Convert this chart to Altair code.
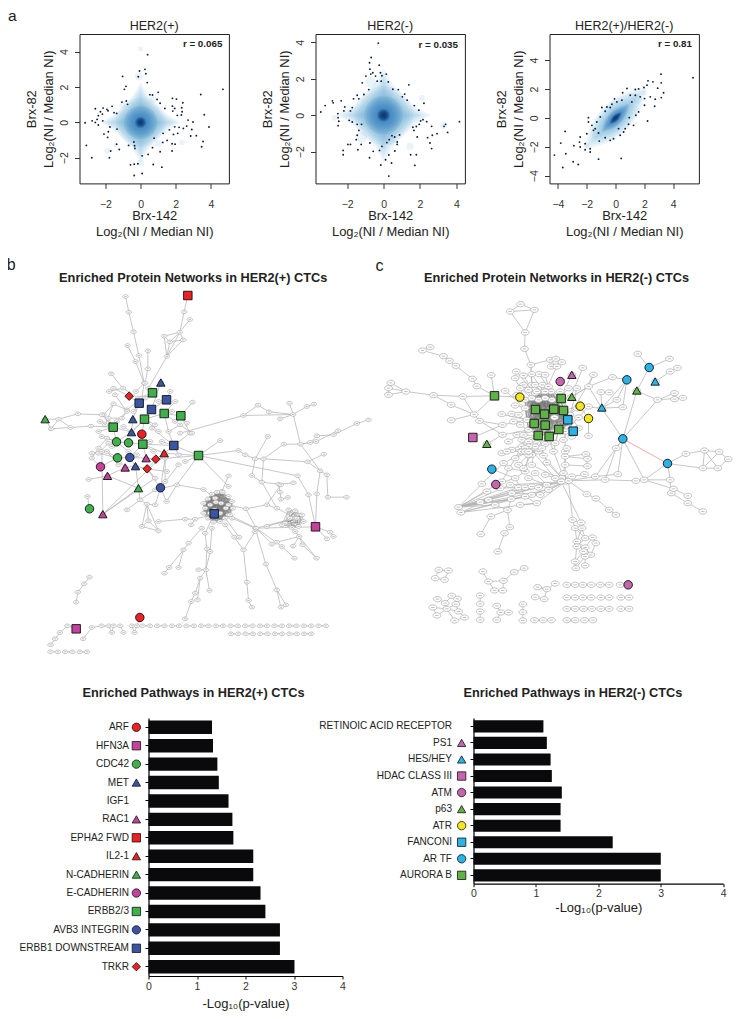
import altair as alt
import pandas as pd

FONT = "Liberation Sans"

# ---------- panel a: scatter values ----------
pts_a1 = [(.40,3.83),(.25,3.00),(-.06,2.91),(.30,2.75),(-.13,2.58),(.38,2.25),(-1.02,2.60),(-.83,2.04),(-.92,1.87),(1.0,1.70),(3.42,1.58),(4.68,1.87),(.53,1.57),(.68,1.55),(.94,1.30),(-1.06,1.15),(-.81,1.21),(-.74,1.02),(1.11,1.08),(1.81,1.36),(2.04,1.32),(2.40,1.11),(1.38,.79),(1.81,.92),(1.94,.79),(2.34,.83),(1.83,.64),(2.36,.60),(2.09,.40),(2.32,.42),(-2.57,.77),(-2.13,.81),(-1.91,.74),(-1.62,.91),(-2.28,.60),(-2.17,.47),(-1.85,.66),(-1.51,.55),(-1.36,.51),(-2.40,.38),(-2.47,.17),(-2.15,.09),(-2.75,.09),(-3.15,-.02),(-2.57,0),(-2.40,-.15),(-1.74,-.26),(-1.34,-.38),(-1.83,-.53),(-2.08,-.66),(-1.87,-.85),(3.62,.43),(2.70,.13),(2.98,.02),(2.62,-.21),(3.89,-.26),(1.64,-.42),(1.94,-.25),(2.19,-.28),(2.43,-.34),(2.91,-.40),(2.11,-.62),(2.85,-.77),(3.17,-.75),(1.28,-.62),(1.87,-.68),(1.51,-1.02),(1.79,-1.21),(1.96,-1.23),(3.55,-1.08),(3.47,-1.38),(1.26,-1.13),(1.11,-1.66),(1.79,-1.62),(.77,-.89),(.68,-1.43),(.43,-1.81),(.09,-1.89),(.72,-2.38),(1.21,-2.53),(-.57,-2.40),(-.36,-2.36),(-.15,-2.34),(-.36,-3.0),(.09,-2.89),(-3.08,-1.30),(-2.77,-2.0),(-1.77,-2.0),(-1.70,-1.62),(-1.21,-1.53),(-1.36,-1.23),(-.68,-1.30),(-.38,-1.11),(-.34,-1.32),(-.32,-1.47)]
pts_a2 = [(-.29,3.96),(-.68,3.17),(-.77,2.88),(-.24,2.75),(-.75,2.53),(-.70,2.26),(-.97,2.15),(-.59,2.33),(-.44,2.15),(-.17,2.33),(.15,2.26),(-.09,2.17),(-.35,1.87),(-1.17,1.78),(-.13,1.87),(.26,1.83),(-.81,1.41),(.51,1.43),(.81,1.41),(1.39,1.67),(-1.08,1.14),(-1.45,1.10),(-1.36,.90),(-1.65,.90),(-2.33,.79),(-2.81,.79),(-2.77,.68),(-3.21,.53),(-3.45,.18),(-2.13,.46),(-1.72,.42),(-1.82,.24),(-2.18,.24),(-2.51,.09),(-2.50,-.13),(-2.46,-.33),(-2.50,-.57),(-1.89,-.28),(-1.72,-.37),(-1.45,-.50),(-1.21,-.50),(-1.36,-.83),(-1.45,-1.10),(-1.50,-1.34),(-1.82,-1.60),(-1.96,-1.60),(-2.22,-1.93),(-2.22,-2.17),(-1.41,-1.89),(-1.23,-1.60),(-.75,-1.52),(-.57,-1.98),(-.22,-1.93),(-.09,-1.71),(-.77,-2.33),(.11,-2.44),(.44,-2.62),(-.15,-2.73),(.29,-3.34),(.29,-2.18),(.62,-1.96),(.18,-1.50),(.31,-1.34),(.61,-1.19),(.46,-1.12),(.75,-1.47),(.75,-1.60),(.88,-1.08),(4.17,-.35),(3.41,-.50),(3.32,-.61),(3.52,-.94),(2.94,-1.01),(2.68,-1.10),(2.42,-1.23),(2.17,-.24),(2.04,-.31),(2.37,-.35),(2.64,-.61),(1.80,-.62),(1.61,-.66),(1.67,-.83),(1.85,-1.19),(1.96,-.50),(1.69,.53),(1.94,.28),(2.22,.66),(1.16,1.16),(1.03,1.01),(1.30,.83),(2.55,-1.52),(2.64,-1.83),(1.49,-2.17),(1.80,-2.17),(1.72,-2.75)]
pts_a3 = [(-4.24,-2.57),(-3.80,-1.74),(-3.50,-.93),(-2.89,-1.92),(-3.45,-2.48),(-3.66,-3.43),(-2.94,-3.03),(-2.59,-3.22),(-1.18,-2.85),(.39,-2.80),(5.37,2.78),(3.15,3.03),(3.17,2.43),(2.92,2.06),(2.25,2.57),(2.59,2.50),(2.18,2.27),(1.97,2.11),(1.60,2.01),(1.37,1.97),(.79,2.04),(.49,1.74),(.44,1.23),(1.02,1.57),(3.33,1.74),(3.17,1.41),(2.75,1.30),(2.41,1.46),(2.01,1.34),(1.71,1.46),(2.01,.88),(2.71,.81),(1.60,.42),(1.41,.19),(.95,.02),(.90,-.44),(2.22,-.21),(-2.45,-1.32),(-2.11,-1.78),(-1.76,-2.36),(-2.45,-2.01),(-2.50,-1.67),(-1.99,-1.09),(-1.64,-.51),(-1.53,-.86),(-1.88,.02),(-1.88,-.28),(-1.06,.07),(-1.30,-.28),(-.95,.72),(-.60,.76),(-.25,.95),(.21,-.74),(.56,-.97),(.32,-1.20),(-.14,-1.44),(-.37,-1.55),(-.72,-1.37),(-1.13,-1.60),(-1.76,-2.13),(-2.11,-2.20),(-1.41,-.74),(-.72,.46),(-.37,.72),(-.07,1.32),(.09,1.11),(1.13,1.11),(1.37,1.57),(1.25,-.51),(.67,-.74),(-1.18,-1.04)]

# density: extent (in data units) of nested iso-density contours around the peak
contour_light = {"a1": [2.3,2.1,1.9,1.7,1.5,1.3,1.1], "a2": [2.6,2.35,2.1,1.9,1.7,1.5,1.3], "a3": [2.1,1.9,1.7,1.5,1.35,1.2,1.05]}
contour_round = {"a1": [1.4,1.25,1.1,.95], "a2": [1.6,1.42,1.25,1.1], "a3": []}
contour_mid = {"a1": [.95,.84,.74,.64,.55,.46,.38,.31,.25], "a2": [1.05,.93,.82,.72,.62,.52,.43,.35,.28], "a3": [.95,.85,.76,.67,.58,.5,.43]}
contour_core = {"a1": [.3,.25,.2,.16,.12,.08,.05], "a2": [.34,.28,.23,.18,.14,.1,.06], "a3": [.4,.34,.28,.23,.18,.13,.08]}
# isolated faint density patches: x, y, extent
patches = {
    "a1": [(0,4.15,.14),(2.35,-1.12,.16),(0,-2.3,.2),(-.1,2.6,.22),(-1.9,-1.6,.16),(-1.4,-1.3,.14),(1.0,-1.2,.2),(.7,1.3,.2),(-1.0,1.0,.2)],
    "a2": [(1.45,-1.7,.2),(2.1,.95,.16),(3.3,-.55,.2),(1.7,-2.75,.1),(-2.7,-.15,.16),(-.3,3.9,.08),(.4,-1.4,.25),(-1.2,-1.2,.3),(-.7,1.8,.3)],
    "a3": [(-2.0,-1.9,.2),(-1.4,-1.2,.25),(1.5,1.3,.3),(2.0,1.75,.18)],
}

panels_a = [
    dict(key="a1", title="HER2(+)", r="r = 0.065", pts=pts_a1, dom=[-3.47,5.02], ydom=[-3.45,5.0], ticks=[-2,0,2,4], yticks=[-2,0,2,4], rx=4.65, ry=4.43),
    dict(key="a2", title="HER2(-)", r="r = 0.035", pts=pts_a2, dom=[-3.74,4.47], ydom=[-3.74,4.46], ticks=[-2,0,2,4], yticks=[-2,0,2,4], rx=4.09, ry=3.87),
    dict(key="a3", title="HER2(+)/HER2(-)", r="r = 0.81", pts=pts_a3, dom=[-4.58,5.78], ydom=[-4.53,5.81], ticks=[-4,-2,0,2,4], yticks=[-4,-2,0,2,4], rx=5.3, ry=5.1),
]
PANEL = 149.4
LOG2 = "Log\u2082(NI / Median NI)"
LOG10 = "-Log\u2081\u2080(p-value)"
LENS = "M-1,1 C-0.9,-0.1 -0.1,-0.9 1,-1 C0.9,0.1 0.1,0.9 -1,1Z"
STAR = "M0,-1 Q0.32,-0.32 1,0 Q0.32,0.32 0,1 Q-0.32,0.32 -1,0 Q-0.32,-0.32 0,-1Z"


def panel_a(p):
    px = PANEL / (p["dom"][1] - p["dom"][0])
    X = alt.X("x:Q", scale=alt.Scale(domain=p["dom"], nice=False, zero=False),
              axis=alt.Axis(values=p["ticks"], title=["Brx-142", LOG2], grid=False, domain=False, tickSize=5,
                            tickColor="#333", labelFontSize=10.5, labelColor="#333", labelPadding=11, labelFlush=False,
                            titleFontSize=12.9, titleFontWeight="normal", titleColor="#222", titleFont=FONT, labelFont=FONT,
                            titlePadding=0, titleLineHeight=16))
    Y = alt.Y("y:Q", scale=alt.Scale(domain=p["ydom"], nice=False, zero=False),
              axis=alt.Axis(values=p["yticks"], title=["Brx-82", LOG2], grid=False, domain=False, tickSize=5,
                            tickColor="#333", labelFontSize=10.5, labelColor="#333", labelAngle=270, labelAlign="center", labelFlush=False,
                            labelBaseline="bottom", labelPadding=5, titleFontSize=12.9, titleFontWeight="normal",
                            titleColor="#222", titleFont=FONT, labelFont=FONT, titlePadding=4, titleLineHeight=17))
    maxr = 3.0
    S = alt.Size("r:Q", legend=None, scale=alt.Scale(type="pow", exponent=2, domain=[0, maxr], range=[0, (2*maxr*px)**2]))
    key = p["key"]
    def contour(radii):
        return pd.DataFrame({"x": [0.0]*len(radii), "y": [0.0]*len(radii), "r": radii})
    light_shape = LENS if key == "a3" else STAR
    mid_shape = LENS if key == "a3" else "circle"
    layers = [
        alt.Chart(contour(contour_light[key])).mark_point(shape=light_shape, filled=True, color="#6aaed6", opacity=.13, strokeWidth=0).encode(x=X, y=Y, size=S),
    ]
    if contour_round[key]:
        layers.append(alt.Chart(contour(contour_round[key])).mark_point(shape="circle", filled=True, color="#6aaed6", opacity=.11, strokeWidth=0).encode(x=X, y=Y, size=S))
    layers += [
        alt.Chart(pd.DataFrame(patches[key], columns=["x","y","r"])).mark_point(shape="circle", filled=True, color="#9ecae1", opacity=.22, strokeWidth=0).encode(x=X, y=Y, size=S),
        alt.Chart(contour(contour_mid[key])).mark_point(shape=mid_shape, filled=True, color="#2e7ebc", opacity=.17, strokeWidth=0).encode(x=X, y=Y, size=S),
        alt.Chart(contour(contour_core[key])).mark_point(shape=mid_shape, filled=True, color="#08306b", opacity=.26, strokeWidth=0).encode(x=X, y=Y, size=S),
        alt.Chart(pd.DataFrame(p["pts"], columns=["x","y"])).mark_circle(size=3.5, color="#0a1c40", opacity=1).encode(x=X, y=Y),
        alt.Chart(pd.DataFrame({"x":[p["rx"]],"y":[p["ry"]],"t":[p["r"]]})).mark_text(align="right", baseline="middle", font=FONT, fontWeight="bold", fontSize=9.8, color="#222").encode(x=X, y=Y, text="t:N"),
    ]
    return alt.layer(*layers).properties(
        width=PANEL, height=PANEL,
        title=alt.TitleParams(p["title"], font=FONT, fontSize=12.5, fontWeight="normal", color="#222", offset=2),
        view=alt.ViewConfig(stroke="#222", strokeWidth=1),
    )

# ---------- pathways ----------
names_b = ["ARF","HFN3A","CDC42","MET","IGF1","RAC1","EPHA2 FWD","IL2-1","N-CADHERIN","E-CADHERIN","ERBB2/3","AVB3 INTEGRIN","ERBB1 DOWNSTREAM","TRKR"]
vals_b = [1.31,1.33,1.42,1.45,1.65,1.73,1.75,2.16,2.16,2.31,2.41,2.71,2.71,3.01]
names_c = ["RETINOIC ACID RECEPTOR","PS1","HES/HEY","HDAC CLASS III","ATM","p63","ATR","FANCONI","AR TF","AURORA B"]
vals_c = [1.12,1.175,1.235,1.255,1.415,1.395,1.395,2.23,3.0,3.0]
style_b = {"ARF":("circle","#ed2024"),"HFN3A":("square","#c6419c"),"CDC42":("circle","#3fb14a"),"MET":("triangle-up","#3b55a5"),
           "RAC1":("triangle-up","#c6419c"),"EPHA2 FWD":("square","#ed2024"),"IL2-1":("triangle-up","#ed2024"),"N-CADHERIN":("triangle-up","#3fb14a"),
           "E-CADHERIN":("circle","#c6419c"),"ERBB2/3":("square","#3fb14a"),"AVB3 INTEGRIN":("circle","#3b55a5"),"ERBB1 DOWNSTREAM":("square","#3b55a5"),"TRKR":("diamond","#ed2024")}
style_c = {"PS1":("triangle-up","#c465ae"),"HES/HEY":("triangle-up","#2ab3e6"),"HDAC CLASS III":("square","#c465ae"),"ATM":("circle","#c465ae"),
           "p63":("triangle-up","#5fb246"),"ATR":("circle","#f5e61d"),"FANCONI":("square","#2ab3e6"),"AR TF":("circle","#2ab3e6"),"AURORA B":("square","#5fb246")}


def icon_enc(style):
    doms = list(style)
    return dict(
        color=alt.Color("pathway:N", legend=None, scale=alt.Scale(domain=doms, range=[style[d][1] for d in doms])),
        shape=alt.Shape("pathway:N", legend=None, scale=alt.Scale(domain=doms, range=[style[d][0] for d in doms])),
    )


def bars(names, vals, style, width, height, title, dx, icon_x, padding, title_pad):
    xs = alt.Scale(domain=[0,4], nice=False)
    Y = alt.Y("pathway:N", sort=names, scale=alt.Scale(paddingInner=.27, paddingOuter=.14),
              axis=alt.Axis(title=None, domainColor="#000", domainWidth=1.2, tickColor="#000", tickSize=3.5, labelFontSize=10.05,
                            labelFont=FONT, labelColor="#222", labelPadding=padding, grid=False))
    X = alt.X("value:Q", scale=xs, axis=alt.Axis(values=[0,1,2,3,4], format="d", title=LOG10, grid=False, domainColor="#000", domainWidth=1.2,
                                                 tickColor="#000", tickSize=3, labelFontSize=10.5, labelFont=FONT, labelColor="#333", labelPadding=2, labelFlush=False,
                                                 titleFont=FONT, titleFontSize=13, titleFontWeight="normal", titleColor="#222", titlePadding=title_pad))
    df = pd.DataFrame({"pathway": names, "value": vals})
    bar = alt.Chart(df).mark_bar(color="#0a0a0c").encode(x=X, y=Y)
    icons = alt.Chart(df[df.pathway.isin(style)]).mark_point(filled=True, size=70, stroke="#111", strokeWidth=.8, opacity=1).encode(
        x=alt.X(datum=icon_x, scale=xs), y=alt.Y("pathway:N", sort=names), **icon_enc(style))
    return alt.layer(bar, icons).properties(width=width, height=height,
        title=alt.TitleParams(title, anchor="start", frame="group", dx=dx, font=FONT, fontSize=12.75, fontWeight="bold", color="#222", offset=18))

# ---------- network b (layout units) ----------
paths_b = [
 [(381,135),(391,182),(405,241),(421,312),(437,395)],[(387,282),(411,330),(437,395)],[(448,298),(448,352),(440,395)],
 [(568,132),(557,181),(544,242),(505,315),(450,410)],[(574,204),(544,242),(497,254),(514,271),(505,315)],[(544,242),(554,265),(514,271)],[(497,254),(505,315)],[(554,265),(505,315)],[(544,242),(514,271)],
 [(338,367),(373,410),(420,440)],[(332,420),(373,410)],
 [(437,395),(430,440),(385,475),(345,457)],[(350,430),(385,480),(370,500),(330,500),(344,527)],[(462,424),(422,455),(403,503),(399,542),(354,571)],[(504,445),(459,474),(438,503),(399,542)],
 [(497,486),(438,503),(430,548),(433,578),(390,574),(354,571),(310,555)],[(547,493),(497,486),(510,540),(526,582)],[(582,452),(547,493),(575,545),(526,582),(600,612)],[(460,530),(526,582),(497,605),(472,623),(446,652),(411,644),(380,648),(357,619),(325,600),(280,605)],
 [(433,578),(443,620),(472,623)],[(394,618),(433,578),(497,605)],[(394,618),(411,644)],[(357,619),(394,618),(443,620)],[(305,510),(344,527),(354,571),(325,560),(300,590),(280,620),(306,646)],[(330,575),(300,605),(357,619)],
 [(470,520),(438,503)],[(510,540),(545,520),(580,545)],[(345,457),(315,490),(344,527)],[(530,450),(497,486)],[(515,420),(504,445)],[(487,393),(459,474)],[(420,440),(462,424)],[(392,434),(422,455)],[(490,570),(526,582)],[(540,610),(526,582)],[(560,630),(600,612)],
 [(355,510),(385,480)],[(320,520),(345,457)],[(375,525),(399,542)],[(300,540),(344,527)],[(480,540),(438,503)],[(455,570),(433,578)],[(465,600),(433,578)],[(505,660),(446,652)],[(540,640),(486,709)],[(360,640),(325,600)],[(340,585),(354,571)],[(390,600),(354,571)],[(415,610),(394,618)],[(405,480),(422,455)],[(440,440),(462,424)],[(480,450),(504,445)],[(520,480),(497,486)],[(565,515),(547,493)],[(530,510),(497,486)],[(345,410),(392,434)],[(412,420),(437,395)],
 [(470,680),(446,652)],[(420,710),(411,644)],[(446,652),(486,709)],[(500,620),(486,709)],[(327,673),(380,648)],[(306,646),(357,619)],[(344,527),(399,542),(438,503)],[(433,578),(526,582)],[(600,612),(472,623)],[(600,612),(497,605)],
 [(140,503),(180,503),(238,487),(310,490),(344,527)],[(140,503),(158,532),(216,528),(277,524),(344,527)],[(180,503),(216,528)],[(158,532),(180,503)],
 [(545,545),(735,492),(778,461),(812,481),(884,489),(873,455)],[(735,492),(884,489)],[(884,489),(925,465),(946,458)],[(884,489),(906,578),(965,658),(985,670),(988,737),(1044,737)],[(845,502),(884,489)],
 [(600,612),(720,597),(740,610),(770,622),(795,622),(927,631),(976,608)],[(795,622),(856,578),(906,578),(935,573),(955,553),(1005,550),(1075,516),(1110,505)],[(906,578),(953,570),(1018,538)],[(808,555),(770,622)],
 [(927,631),(965,658),(955,727),(951,826)],[(795,622),(790,692),(840,698),(885,694)],[(840,698),(845,722),(847,743),(868,738)],[(770,622),(760,672),(790,692),(835,770)],
 [(600,612),(665,567)],[(600,612),(897,673),(930,730),(951,826)],[(600,612),(690,705)],[(535,700),(615,714),(650,740)],[(690,673),(670,720)],
 [(647,787),(620,845),(625,892),(622,955),(600,955)],[(610,830),(570,875),(555,895),(540,948)],[(555,895),(512,948),(498,965)],[(640,830),(635,900),(622,955),(633,1017)],[(622,955),(605,980),(590,1025),(578,1050),(560,1102)],[(605,980),(597,1045)],
 [(680,820),(735,895)],[(700,800),(770,830),(802,938),(835,1015),(847,1067)],[(835,1015),(862,1060)],[(770,840),(735,895),(745,992),(750,1047),(760,1067)],
 [(690,760),(742,772),(805,760),(835,770),(890,800)],[(742,772),(773,830),(890,800)],[(773,830),(951,826)],[(805,825),(890,800)],[(805,760),(847,700)],
 [(690,790),(773,830),(820,878)],[(773,830),(850,885)],[(850,885),(888,920)],[(890,840),(902,855),(954,920)],[(951,826),(995,842),(1005,855)],[(951,826),(985,862)],[(884,884),(902,855),(912,880)],[(912,880),(954,920)],[(835,872),(902,855)],[(708,857),(722,857),(680,800)],
 [(486,709),(470,760)],[(470,760),(445,758)],[(420,710),(425,745),(445,758),(430,825),(480,838)],[(445,758),(480,838)],[(450,808),(480,838)],[(430,825),(450,808),(445,758)],[(480,810),(560,803),(590,803)],[(578,820),(590,803),(647,787)],
 [(385,775),(425,745),(470,715),(535,700)],[(313,788),(420,710)],[(313,788),(470,680)],[(313,788),(500,605)],[(313,788),(310,600)],[(327,673),(270,684)],[(273,772),(267,735)],[(327,673),(420,710)],
 [(500,620),(500,690),(486,709)],[(486,709),(504,750)],[(535,700),(504,750)],[(600,612),(535,700)],
 [(273,977),(257,997),(238,1022),(233,1052)],[(156,1180),(170,1162),(184,1143),(207,1123),(233,1132)],[(254,1162),(280,1128),(309,1123)],[(330,1123),(340,1143)],[(365,1123),(375,1143)],[(400,1123),(408,1143)],[(330,1123),(309,1123)],[(424,1098),(415,1123),(408,1143)],
 [(432,1123),(454,1123)],[(476,1123),(498,1123)],[(520,1123),(542,1123)],[(564,1123),(586,1123)],[(608,1123),(630,1123)],[(652,1123),(674,1123)],[(696,1123),(718,1123)],[(740,1123),(762,1123)],[(784,1123),(806,1123)],[(828,1123),(850,1123)],[(872,1123),(894,1123)],[(916,1123),(938,1123)],[(960,1123),(982,1123)],
 [(697,1147),(719,1147)],[(741,1147),(763,1147)],[(785,1147),(807,1147)],[(829,1147),(851,1147)],[(873,1147),(895,1147)],[(917,1147),(938,1147)],
 [(156,1201),(178,1201)],[(200,1201),(222,1201)],[(244,1201),(265,1201)],[(345,1123),(340,1143)],
]
cliques_b = [
 [(615,755),(628,742),(640,728),(655,722),(672,722),(690,735),(700,750),(703,770),(695,790),(680,800),(665,810),(645,812),(628,800),(615,785),(635,760),(652,752),(668,755),(682,770),(665,785),(648,775),(635,785),(620,770)],
 [(870,775),(890,778),(910,790),(915,810),(900,825),(880,828),(860,815),(850,820),(875,800),(895,800)],
]
icons_b = [(568,132,"EPHA2 FWD"),(487,393,"MET"),(462,424,"ERBB2/3"),(392,434,"TRKR"),(504,445,"ERBB1 DOWNSTREAM"),(422,455,"ERBB1 DOWNSTREAM"),(459,474,"ERBB1 DOWNSTREAM"),(497,486,"ERBB2/3"),(547,493,"ERBB2/3"),(438,503,"ERBB2/3"),(403,503,"MET"),(140,503,"N-CADHERIN"),(344,527,"ERBB2/3"),(399,542,"MET"),(430,548,"ARF"),(354,571,"CDC42"),(390,574,"CDC42"),(433,578,"ERBB2/3"),(526,582,"ERBB1 DOWNSTREAM"),(600,612,"ERBB2/3"),(497,605,"IL2-1"),(443,620,"RAC1"),(472,623,"TRKR"),(394,618,"AVB3 INTEGRIN"),(357,619,"CDC42"),(380,648,"RAC1"),(411,644,"MET"),(446,652,"TRKR"),(306,646,"E-CADHERIN"),(327,673,"RAC1"),(420,710,"N-CADHERIN"),(486,709,"AVB3 INTEGRIN"),(273,772,"CDC42"),(313,788,"RAC1"),(647,787,"ERBB1 DOWNSTREAM"),(951,826,"HFN3A"),(424,1098,"ARF"),(233,1132,"HFN3A")]

# ---------- network c (layout units) ----------
paths_c = [
 [(456,158),(425,180),(498,175),(456,158)],[(425,180),(470,243),(498,175)],[(470,243),(468,292),(487,340),(490,400)],
 [(162,297),(185,287)],[(162,297),(225,314),(243,328),(262,343),(312,382),(325,404),(378,433)],[(368,371),(378,433)],
 [(67,394),(112,420),(60,430)],[(60,410),(112,420)],[(67,394),(60,410),(60,430)],[(112,420),(195,431),(283,435),(378,433)],[(195,431),(248,460),(317,489),(378,433)],[(283,435),(317,489)],[(248,506),(317,489),(333,508),(402,520)],[(333,508),(402,550)],[(313,558),(402,520)],[(355,577),(402,550)],[(378,433),(454,437),(470,445)],
 [(443,360),(500,425)],[(465,372),(510,445)],[(490,368),(525,420)],[(512,368),(548,420)],[(530,370),(550,445)],[(545,325),(487,340),(490,400),(525,420)],[(562,322),(580,332),(548,345),(565,345),(545,325)],[(565,345),(530,420)],[(465,400),(490,440)],[(500,400),(530,440)],[(522,400),(575,440)],[(440,380),(470,445)],[(410,418),(470,470)],[(440,462),(500,475)],[(400,488),(475,505)],[(430,487),(497,516)],[(435,510),(480,535)],[(402,520),(475,505)],[(402,550),(480,535)],[(445,550),(509,552)],[(460,565),(509,552)],[(460,585),(542,555)],[(610,370),(575,440)],[(643,349),(605,440)],[(675,370),(605,490)],[(660,465),(600,530)],[(630,498),(600,530)],[(660,553),(660,501),(635,464),(585,477)],[(610,436),(660,405)],[(614,539),(571,534)],
 [(455,410),(490,440)],[(480,415),(510,445)],[(505,420),(530,440)],[(445,430),(470,445)],[(450,490),(470,470)],[(455,520),(475,505)],[(465,550),(480,535)],[(480,570),(509,552)],[(505,575),(542,555)],[(530,578),(571,534)],[(560,575),(571,534)],[(585,565),(600,530)],[(610,555),(600,530)],[(630,530),(605,490)],[(625,470),(605,490)],[(540,405),(575,440)],[(600,410),(575,440)],[(625,410),(605,490)],[(575,420),(605,490)],[(510,600),(542,555)],[(555,600),(571,534)],[(420,570),(480,535)],[(430,595),(509,552)],[(490,610),(509,552)],
 [(420,650),(470,660)],[(450,640),(500,590)],[(500,665),(535,700)],[(530,670),(590,690)],[(480,680),(535,700)],[(395,710),(450,708)],[(430,725),(515,730)],[(490,730),(590,690)],[(455,760),(505,755)],
 [(460,585),(480,610),(470,660),(440,680)],[(500,585),(490,640),(590,690)],[(520,590),(535,633),(590,690)],[(590,600),(590,690)],[(595,590),(585,665),(600,688)],[(525,612),(580,680)],[(480,585),(560,680)],[(590,615),(652,608),(657,644),(590,640)],[(657,622),(590,615)],[(648,668),(610,675),(600,688)],[(400,605),(470,590)],[(415,600),(460,600)],[(405,635),(470,600)],[(440,620),(480,600)],[(465,650),(500,590)],[(590,540),(590,615)],[(530,560),(480,610)],[(540,560),(590,690)],
 [(675,370),(660,405),(610,436)],[(660,405),(700,470)],[(660,405),(732,377),(775,385)],[(775,385),(700,470)],[(775,385),(763,467)],[(697,422),(722,423)],[(697,422),(700,470)],[(745,445),(700,470),(763,467)],[(745,445),(775,385)],[(700,470),(763,562)],[(633,465),(700,470)],[(763,562),(805,418)],[(805,418),(842,348)],[(808,307),(842,348),(903,322)],[(905,360),(927,349)],[(861,390),(905,360)],[(805,418),(867,445),(763,562)],[(867,445),(918,425),(918,443),(943,439),(867,445)],
 [(897,636),(952,607),(1008,597),(1052,601),(1079,623),(1048,650),(1003,650),(897,636)],[(1008,597),(1048,650)],[(1052,601),(1003,650)],[(1008,597),(1003,650)],
 [(763,562),(743,590),(710,685),(600,688)],[(763,562),(748,668),(680,675),(600,688)],[(763,562),(680,675)],[(763,562),(827,685),(897,636)],[(802,688),(827,685),(905,685),(908,725),(958,755),(1003,780)],[(827,685),(915,712),(958,733)],[(897,636),(905,685)],[(710,685),(802,688)],[(600,688),(655,728),(682,741),(722,775),(742,790)],
 [(600,688),(612,805),(638,813)],[(578,690),(638,813)],[(612,805),(620,830),(625,870),(625,885),(620,930),(622,950)],[(638,813),(640,830),(650,860),(672,858),(682,875),(667,910),(650,915),(650,942)],[(620,830),(650,860),(625,885),(650,888),(667,910)],[(640,830),(625,870),(650,888),(645,900),(620,930)],[(672,858),(650,888),(650,915),(622,950)],
 [(270,767),(340,697)],[(270,767),(335,752)],[(270,767),(360,745)],[(270,767),(380,760)],[(270,767),(428,743)],[(270,767),(450,708)],[(270,767),(470,708)],[(270,767),(490,705)],[(270,767),(510,708)],[(270,767),(535,700)],[(270,767),(540,715)],[(270,767),(515,730)],[(270,767),(470,735)],[(270,767),(425,700)],[(270,767),(400,690)],[(270,767),(355,720)],[(277,783),(360,745)],[(277,783),(428,743)],[(277,783),(505,755)],[(277,783),(470,735)],
 [(417,776),(367,795),(337,848)],[(417,776),(424,827),(408,845),(388,900)],[(380,760),(417,776)],[(428,743),(417,776)],[(505,755),(470,735),(440,680)],[(590,690),(540,715)],[(590,690),(510,708)],[(590,690),(470,708)],[(590,690),(450,708)],[(590,690),(425,700)],[(590,690),(515,730)],[(590,690),(505,755)],[(590,690),(600,688)],[(400,690),(460,585)],[(340,697),(405,635)],[(370,653),(440,680)],[(382,699),(440,680)],
 [(211,955),(240,957),(228,985),(200,980),(211,955)],[(343,960),(360,990),(405,988),(437,962),(467,950)],[(360,990),(378,1017),(403,1017),(405,988)],[(507,1007),(535,1013),(560,996)],[(500,1037),(527,1043),(535,1013),(507,1007)],
 [(207,1043),(230,1055),(250,1033),(267,1042),(262,1058),(235,1072),(193,1068)],[(230,1055),(235,1072),(270,1080),(288,1098),(258,1107)],[(262,1058),(270,1080)],[(205,1092),(235,1072),(258,1107)],[(193,1068),(205,1092)],
 [(335,1032),(335,1057)],[(335,1080),(335,1105)],[(385,1063),(397,1083),(420,1083)],[(397,1083),(385,1105)],[(463,1058),(463,1082)],[(463,1082),(463,1107)],[(498,1106),(524,1106)],[(524,1106),(549,1106)],
 [(595,1000),(620,1000)],[(643,1000),(668,1000)],[(695,1000),(722,1000)],[(755,1000),(779,1000)],[(595,1038),(620,1038)],[(643,1038),(668,1038)],[(697,1038),(722,1038)],[(757,1038),(782,1038)],[(595,1072),(620,1072)],[(645,1072),(670,1072)],[(697,1072),(722,1072)],[(757,1072),(782,1072)],[(595,1106),(620,1106)],[(648,1106),(673,1106)],
]
cliques_c = [
 [(490,440),(510,445),(530,440),(550,445),(575,440),(470,470),(500,475),(528,488),(556,473),(585,477),(605,490),(475,505),(497,516),(530,521),(558,498),(598,505),(480,535),(509,552),(542,555),(571,534),(600,530),(500,425),(525,420),(548,420),(470,445)],
]
red_edge_c = [(763,562),(897,636)]
icons_c = [(378,433,"AURORA B"),(454,437,"ATR"),(610,370,"PS1"),(575,390,"ATM"),(775,385,"AR TF"),(842,348,"AR TF"),(860,390,"HES/HEY"),(700,468,"HES/HEY"),(805,417,"p63"),(610,436,"p63"),(355,577,"p63"),(578,441,"AURORA B"),(501,474,"AURORA B"),(556,473,"AURORA B"),(585,477,"AURORA B"),(528,488,"AURORA B"),(497,516,"AURORA B"),(530,521,"AURORA B"),(571,534,"AURORA B"),(509,552,"AURORA B"),(542,555,"AURORA B"),(635,464,"ATR"),(660,501,"ATR"),(598,505,"FANCONI"),(614,539,"FANCONI"),(763,562,"AR TF"),(897,636,"AR TF"),(370,653,"AR TF"),(313,558,"HDAC CLASS III"),(382,699,"ATM"),(779,1000,"ATM")]

NODE = "M-1,0 A1,0.68 0 1 1 1,0 A1,0.68 0 1 1 -1,0Z M-0.45,0 L0.45,0"


def network(paths, cliques, icons, style, xdom, ydom, width, height, node_size, title, title_xy, letter, letter_xy, red=None):
    X = alt.X("x:Q", axis=None, scale=alt.Scale(domain=xdom, nice=False, zero=False))
    Y = alt.Y("y:Q", axis=None, scale=alt.Scale(domain=ydom, nice=False, zero=False))
    edges, nodes = [], []
    for path in paths:
        nodes += path
        edges += list(zip(path[:-1], path[1:]))
    core = []
    for c in cliques:
        nodes += c
        core += [(c[i], c[j]) for i in range(len(c)) for j in range(i+1, len(c))]
    nodes = list(dict.fromkeys(nodes))
    to_df = lambda e: pd.DataFrame([{"x": a[0], "y": a[1], "x2": b[0], "y2": b[1]} for a, b in e])
    layers = [
        alt.Chart(to_df(core)).mark_rule(color="#777", strokeWidth=.5, opacity=.75).encode(x=X, y=Y, x2="x2:Q", y2="y2:Q"),
        alt.Chart(to_df(edges)).mark_rule(color="#b4b4b4", strokeWidth=.75).encode(x=X, y=Y, x2="x2:Q", y2="y2:Q"),
    ]
    if red:
        layers.append(alt.Chart(to_df([tuple(red)])).mark_rule(color="#f0a0a0", strokeWidth=.9).encode(x=X, y=Y, x2="x2:Q", y2="y2:Q"))
    layers += [
        alt.Chart(pd.DataFrame(nodes, columns=["x","y"])).mark_point(shape=NODE, filled=True, fill="#fff", stroke="#a8a8a8", strokeWidth=.7, size=node_size, opacity=1).encode(x=X, y=Y),
        alt.Chart(pd.DataFrame(icons, columns=["x","y","pathway"])).mark_point(filled=True, size=72, stroke="#111", strokeWidth=.9, opacity=1).encode(x=X, y=Y, **icon_enc(style)),
        alt.Chart(pd.DataFrame({"x":[title_xy[0]],"y":[title_xy[1]],"t":[title]})).mark_text(font=FONT, fontSize=12.75, fontWeight="bold", color="#222").encode(x=X, y=Y, text="t:N"),
        alt.Chart(pd.DataFrame({"x":[letter_xy[0]],"y":[letter_xy[1]],"t":[letter]})).mark_text(font=FONT, fontSize=16, color="#222").encode(x=X, y=Y, text="t:N"),
    ]
    return alt.layer(*layers).properties(width=width, height=height)


def spacer(w, h=1):
    return alt.Chart(pd.DataFrame({"a":[0]})).mark_point(opacity=0, size=1, strokeWidth=0).encode(x=alt.value(w/2), y=alt.value(0.5)).properties(width=w, height=h)


def letter_spacer(w, letter):
    return alt.Chart(pd.DataFrame({"t":[letter]})).mark_text(font=FONT, fontSize=15.5, baseline="alphabetic", align="left", color="#222").encode(
        x=alt.value(1.5), y=alt.value(-13.5), text="t:N").properties(width=w, height=1)


def row(*charts):
    return alt.hconcat(*charts, spacing=0, bounds="flush").resolve_scale(color="independent", shape="independent", size="independent")

a1, a2, a3 = panel_a(panels_a[0]), panel_a(panels_a[1]), panel_a(panels_a[2])
NET_TOP = 238.5
NET_BOTTOM = 684.9
ydom = [(NET_BOTTOM-250)*3, (NET_TOP-250)*3]
net_b = network(paths_b, cliques_b, icons_b, style_b, [24, 1110], ydom, 362, NET_BOTTOM-NET_TOP, 29, "Enriched Protein Networks in HER2(+) CTCs", (584,80), "b", (38,40))
net_c = network(paths_c, cliques_c, icons_c, style_c, [0, 1095], ydom, 365, NET_BOTTOM-NET_TOP, 60, "Enriched Protein Networks in HER2(-) CTCs", (564,80), "c", (33,44), red=red_edge_c)
bar_b = bars(names_b, vals_b, style_b, 194, 258, "Enriched Pathways in HER2(+) CTCs", -66, -.25, 16.5, 6)
bar_c = bars(names_c, vals_c, style_c, 249.7, 165.7, "Enriched Pathways in HER2(-) CTCs", -10, -.19, 18.5, 2)

chart = alt.vconcat(
    row(letter_spacer(72.3, "a"), a1, spacer(85.3), a2, spacer(83.4), a3),
    row(net_b, net_c),
    row(spacer(141.3), bar_b, spacer(131), bar_c),
    spacing=0,
).resolve_scale(color="independent", shape="independent", size="independent"
).properties(padding={"left":-1.5,"top":0,"right":0,"bottom":0}
).configure(font=FONT, view=alt.ViewConfig(strokeWidth=0))

chart.save("out.html", embed_options={"renderer": "svg", "actions": False})
